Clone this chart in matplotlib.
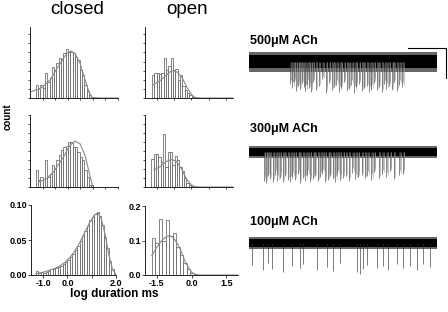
import numpy as np
import matplotlib
matplotlib.use("Agg")
import matplotlib.pyplot as plt

plt.rcParams['font.family'] = ['Liberation Sans', 'DejaVu Sans']

W, H = 448, 312

# ---------------- histogram data ----------------
# closed dwell times (log ms), top / middle rows (arbitrary count units)
closed_top_start, closed_top_width = -1.23, 0.092
closed_top_counts = [1.45, 1.1, 1.45, 1.1, 2.7, 1.8, 2.2, 3.45, 3.1, 3.8, 4.4, 4.25, 4.9,
                     5.35, 5.0, 5.1, 4.9, 4.55, 4.2, 3.1, 2.55, 1.45, 0.73, 0.36, 0.1]
closed_top_fit_x = [-1.43, -1.1, -0.7, -0.3, -0.04, 0.12, 0.29, 0.49, 0.69, 0.86, 0.96, 1.3, 2.0]
closed_top_fit_y = [0.73, 1.0, 2.0, 3.8, 4.9, 5.15, 4.9, 3.8, 2.0, 0.55, 0.07, 0.0, 0.0]

closed_mid_start, closed_mid_width = -1.23, 0.092
closed_mid_counts = [1.9, 0.75, 1.1, 0.9, 3.0, 1.1, 1.5, 2.5, 2.0, 3.0, 3.6, 4.15, 4.45,
                     4.6, 5.0, 5.0, 4.45, 4.45, 3.9, 3.3, 2.95, 1.85, 1.1, 0.2, 0.2]
closed_mid_fit_x = [-1.14, -0.84, -0.57, -0.17, 0.09, 0.29, 0.49, 0.69, 0.82, 0.93, 1.0]
closed_mid_fit_y = [0.55, 0.93, 1.67, 3.33, 4.63, 5.1, 4.8, 3.5, 2.0, 0.75, 0.07]

# open dwell times, top / middle rows
open_top_start, open_top_width = -1.64, 0.1
open_top_counts = [2.55, 2.7, 2.7, 2.6, 2.7, 4.35, 3.1, 3.5, 4.35, 3.1, 3.15, 2.0, 2.55,
                   1.27, 0.9, 0.6, 0.36, 0.1]
open_top_fit_x = [-1.64, -1.35, -1.07, -0.85, -0.64, -0.42, -0.21, 0.01, 0.15, 0.4, 2.0]
open_top_fit_y = [1.45, 1.9, 2.55, 3.0, 2.9, 2.35, 1.27, 0.36, 0.07, 0.0, 0.0]

open_mid_start, open_mid_width = -1.67, 0.1
open_mid_counts = [3.1, 3.7, 3.7, 3.3, 2.75, 5.9, 2.2, 3.9, 3.9, 2.4, 3.5, 2.95, 2.2,
                   1.8, 1.05, 0.5, 0.25, 0.1]
open_mid_fit_x = [-1.62, -1.35, -1.07, -0.85, -0.64, -0.42, -0.21, 0.01, 0.15, 0.4, 2.0]
open_mid_fit_y = [1.9, 2.25, 2.85, 3.05, 2.85, 2.0, 0.87, 0.23, 0.04, 0.0, 0.0]

# bottom row: normalised frequency
closed_bot_start, closed_bot_width = -1.25, 0.1
closed_bot_freq = [0.006, 0.003, 0.004, 0.003, 0.005, 0.006, 0.008, 0.008, 0.010, 0.012,
                   0.013, 0.016, 0.018, 0.021, 0.026, 0.030, 0.036, 0.042, 0.049, 0.056,
                   0.063, 0.070, 0.078, 0.083, 0.087, 0.090, 0.085, 0.072, 0.055, 0.038,
                   0.020, 0.008, 0.002]
closed_bot_fit_x = [-1.3, -1.0, -0.7, -0.4, -0.1, 0.1, 0.3, 0.5, 0.7, 0.9, 1.1, 1.25,
                    1.4, 1.55, 1.7, 1.85, 2.0]
closed_bot_fit_y = [0.002, 0.004, 0.007, 0.011, 0.018, 0.025, 0.034, 0.046, 0.060, 0.074,
                    0.085, 0.089, 0.080, 0.058, 0.030, 0.008, 0.001]

open_bot_start, open_bot_width = -1.625, 0.15
open_bot_freq = [0.108, 0.092, 0.162, 0.098, 0.158, 0.112, 0.122, 0.082, 0.058, 0.034,
                 0.016, 0.005]
open_bot_fit_x = [-1.71, -1.50, -1.28, -1.07, -0.92, -0.78, -0.57, -0.42, -0.28, -0.14,
                  0.01, 0.15, 0.35, 2.0]
open_bot_fit_y = [0.056, 0.080, 0.100, 0.112, 0.114, 0.108, 0.087, 0.065, 0.040, 0.022,
                  0.008, 0.002, 0.0, 0.0]

# ---------------- single-channel traces ----------------
trace_labels = ["500\u03bcM ACh", "300\u03bcM ACh", "100\u03bcM ACh"]
trace_noise_core = [1.3, 0.8, 0.8]      # half-width of dense baseline noise (pA)
trace_noise_edge = [2.0, 1.2, 1.2]      # half-width of noise fringe (pA)
t500 = [22, 23, 24, 25, 26, 27, 28, 29, 30, 31, 32, 33, 34, 35.5, 37, 39, 41, 42.5,
        44, 45, 46.5, 48, 49, 50.5, 52, 53, 54.5, 56, 57, 58.5, 60, 61, 62.5, 64, 65,
        66.5, 68, 69, 70.5, 72, 73, 74.5, 76, 77, 78.5, 80, 81.5]
d500 = [4.5, 5.2, 4.0, 5.8, 4.8, 5.5, 4.2, 5.0, 5.9, 4.4, 5.3, 6.1, 4.0, 5.6, 4.9, 3.5,
        6.2, 4.3, 5.7, 5.0, 4.6, 6.0, 5.2, 4.1, 5.8, 5.5, 4.7, 6.2, 5.0, 4.4, 5.9, 5.3,
        4.8, 6.1, 5.5, 4.2, 5.7, 5.0, 6.0, 4.5, 5.4, 4.9, 5.6, 4.0, 5.8, 4.6, 5.1]
t300 = [8, 9, 10, 11, 12.5, 14, 15, 16.5, 18, 19, 20.5, 22, 23, 24.5, 26, 27, 28.5, 30,
        31, 32.5, 34, 35, 36.5, 38, 39, 40.5, 42, 43, 44.5, 46, 47, 48.5, 50, 51.5, 53,
        55, 56.5, 58, 60, 61.5, 63, 65, 66.5, 69, 71, 73, 75, 77, 80, 82]
d300 = [5.8, 6.2, 4.9, 5.5, 6.0, 4.6, 5.9, 5.2, 6.1, 4.8, 5.6, 6.0, 5.0, 5.7, 4.4, 6.2,
        5.3, 5.8, 4.7, 6.0, 5.5, 4.9, 5.9, 5.1, 4.3, 6.1, 5.6, 4.8, 5.4, 6.0, 4.5, 5.7,
        5.2, 4.9, 5.8, 4.2, 5.5, 5.0, 4.6, 5.3, 4.8, 5.6, 4.1, 5.2, 4.5, 5.0, 3.9, 5.4,
        4.7, 4.4]
t100 = [1.4, 7.6, 10.3, 12.1, 18.3, 22.7, 27.1, 28.9, 36.0, 41.3, 44.9, 48.4, 57.3, 59.0,
        60.8, 62.6, 67.9, 71.4, 74.1, 78.6, 82.1, 85.6, 89.2, 92.7, 96.3]
d100 = [4.5, 5.5, 4.0, 5.2, 5.8, 4.6, 5.0, 4.2, 5.4, 4.8, 5.6, 4.1, 5.9, 6.2, 5.3, 4.4,
        5.0, 4.6, 5.5, 4.3, 5.1, 4.7, 5.4, 4.2, 4.9]
trace_times = [t500, t300, t100]
trace_depths = [d500, d300, d100]
scalebar_time, scalebar_amp = 20, 6

# ---------------- figure ----------------
fig = plt.figure(figsize=(W / 100, H / 100), dpi=100)


def add_ax(x0, y0, x1, y1):
    return fig.add_axes([x0 / W, 1 - y1 / H, (x1 - x0) / W, (y1 - y0) / H])


def style(ax):
    for s in ['top', 'right']:
        ax.spines[s].set_visible(False)
    for s in ['left', 'bottom']:
        ax.spines[s].set_linewidth(0.6)
    ax.tick_params(length=2, width=0.5, pad=1.0)


def hist(ax, start, width, vals, fx, fy):
    centers = start + width * np.arange(len(vals))
    ax.bar(centers, vals, width=width, facecolor='white', edgecolor='#555555',
           linewidth=0.5)
    ax.plot(fx, fy, color='#8a8a8a', lw=0.8)


closed_boxes = [(30, 27, 118, 98), (30, 115, 118, 187), (31, 205, 116, 275)]
open_boxes = [(145, 27, 233, 98), (145, 115, 233, 187), (145, 206, 238, 275)]

# top rows
for i, (cs, cw, cv, cfx, cfy, os_, ow, ov, ofx, ofy, ymax) in enumerate([
        (closed_top_start, closed_top_width, closed_top_counts, closed_top_fit_x, closed_top_fit_y,
         open_top_start, open_top_width, open_top_counts, open_top_fit_x, open_top_fit_y, 7.8),
        (closed_mid_start, closed_mid_width, closed_mid_counts, closed_mid_fit_x, closed_mid_fit_y,
         open_mid_start, open_mid_width, open_mid_counts, open_mid_fit_x, open_mid_fit_y, 8.0)]):
    axc = add_ax(*closed_boxes[i])
    hist(axc, cs, cw, cv, cfx, cfy)
    axc.set_xlim(-1.5, 2.0)
    axc.set_ylim(0, ymax)
    axc.set_xticks(np.arange(-1.0, 2.01, 0.5))
    axc.set_yticks(np.arange(0, ymax + 0.01, 1))
    axc.set_xticklabels([])
    axc.set_yticklabels([])
    style(axc)
    axc.tick_params(length=1.5)
    axo = add_ax(*open_boxes[i])
    hist(axo, os_, ow, ov, ofx, ofy)
    axo.set_xlim(-2.0, 1.8)
    axo.set_ylim(0, ymax)
    axo.set_xticks(np.arange(-1.5, 1.51, 0.75))
    axo.set_yticks(np.arange(0, ymax + 0.01, 1))
    axo.set_xticklabels([])
    axo.set_yticklabels([])
    style(axo)
    axo.tick_params(length=1.5)

tick_font = dict(fontsize=6.5, fontweight='bold')

axc = add_ax(*closed_boxes[2])
hist(axc, closed_bot_start, closed_bot_width, closed_bot_freq, closed_bot_fit_x, closed_bot_fit_y)
axc.set_xlim(-1.5, 2.0)
axc.set_ylim(0, 0.10)
axc.set_xticks([-1.0, 0.0, 1.0, 2.0])
axc.set_xticklabels(['-1.0', '0.0', '', '2.0'], **tick_font)
axc.set_yticks([0.0, 0.05, 0.10])
axc.set_yticklabels(['0.00', '0.05', '0.10'], **tick_font)
style(axc)

axo = add_ax(*open_boxes[2])
hist(axo, open_bot_start, open_bot_width, open_bot_freq, open_bot_fit_x, open_bot_fit_y)
axo.set_xlim(-2.0, 2.0)
axo.set_ylim(0, 0.2)
axo.set_xticks([-1.5, 0.0, 1.5])
axo.set_xticklabels(['-1.5', '0.0', '1.5'], **tick_font)
axo.set_yticks([0.0, 0.1, 0.2])
axo.set_yticklabels(['0.0', '0.1', '0.2'], **tick_font)
style(axo)

# titles / labels
fig.text(77 / W, 1 - 9 / H, "closed", fontsize=13.5, ha='center', va='center')
fig.text(187 / W, 1 - 9 / H, "open", fontsize=13.5, ha='center', va='center')
fig.text(8 / W, 1 - 117 / H, "count", fontsize=7, fontweight='bold', rotation=90,
         ha='center', va='center')
fig.text(114 / W, 1 - 288 / H, "log duration ms", fontsize=8.5, fontweight='bold',
         ha='center', va='top')

# traces
trace_boxes = [(249, 45, 437, 95), (249, 135, 437, 185), (249, 226, 437, 276)]
label_y = [41, 129, 222]
for k in range(3):
    ax = add_ax(*trace_boxes[k])
    ax.set_xlim(0, 100)
    ax.set_ylim(-6.7, 3.3)
    ax.axis('off')
    nc, ne = trace_noise_core[k], trace_noise_edge[k]
    ax.fill_between([0, 100], [-ne, -ne], [ne, ne], color='#666666', lw=0)
    ax.fill_between([0, 100], [-nc, -nc], [nc, nc], color='black', lw=0)
    for t, d in zip(trace_times[k], trace_depths[k]):
        if k < 2:
            ax.vlines(t, -d, 0, color='#444444', lw=0.45)
            ax.vlines(t + 0.35, -d * 0.8, 0, color='#777777', lw=0.4)
            ax.vlines(t + 0.7, -d * 0.93, 0, color='#999999', lw=0.4)
        else:
            ax.vlines(t, -d, 0, color='#333333', lw=0.45)
    fig.text(250 / W, 1 - label_y[k] / H, trace_labels[k], fontsize=9,
             fontweight='bold', ha='left', va='center')
    if k == 0:
        x_end = 104.8
        ax.plot([x_end - scalebar_time, x_end, x_end],
                [2.76, 2.76, 2.76 - scalebar_amp], color='black', lw=0.8, clip_on=False)

fig.savefig("out.png", dpi=100)
